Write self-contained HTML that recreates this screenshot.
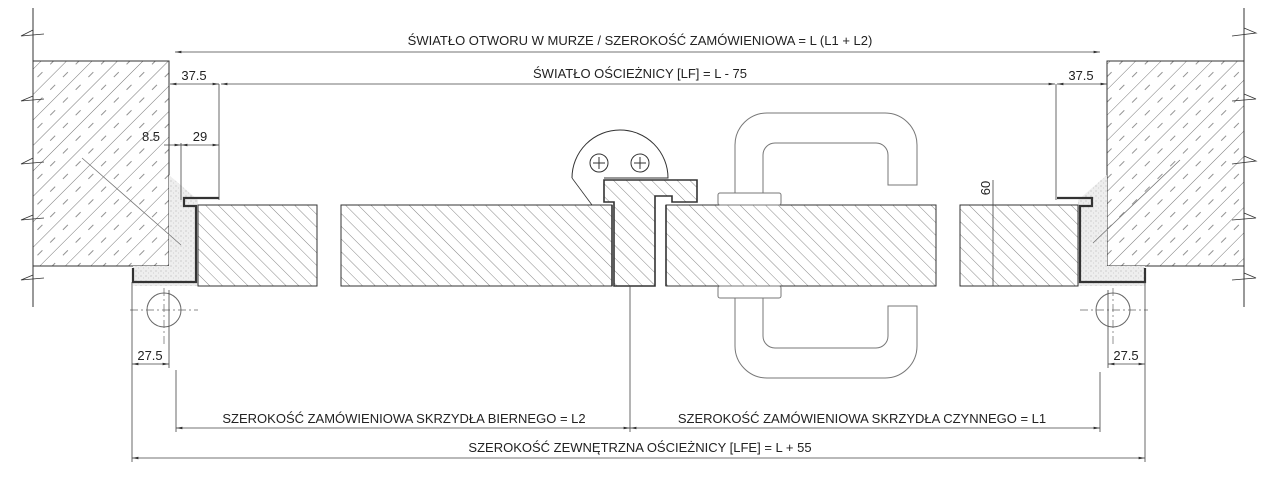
<!DOCTYPE html>
<html><head><meta charset="utf-8"><style>
html,body{margin:0;padding:0;background:#fff;width:1280px;height:485px;overflow:hidden}
text{font-family:"Liberation Sans",sans-serif;font-size:13px;fill:#222}
</style></head><body>
<svg width="1280" height="485" viewBox="0 0 1280 485" xmlns="http://www.w3.org/2000/svg">
<defs>
<pattern id="wall" width="18" height="18" patternUnits="userSpaceOnUse" patternTransform="rotate(45)">
<line x1="0" y1="0" x2="0" y2="18" stroke="#555" stroke-width="0.8"/>
<line x1="9" y1="3" x2="9" y2="10" stroke="#777" stroke-width="0.8"/>
</pattern>
<pattern id="door" width="9" height="9" patternUnits="userSpaceOnUse" patternTransform="rotate(-45)">
<line x1="0" y1="0" x2="0" y2="9" stroke="#555" stroke-width="0.7"/>
</pattern>
<pattern id="speck" width="5" height="5" patternUnits="userSpaceOnUse">
<rect width="5" height="5" fill="#eee"/><circle cx="1" cy="1" r="0.5" fill="#999"/><circle cx="3.5" cy="3" r="0.4" fill="#aaa"/>
</pattern>
<marker id="a" markerWidth="8" markerHeight="6" refX="8" refY="3" orient="auto-start-reverse"><path d="M0,1.5 L8,3 L0,4.5z" fill="#333"/></marker>
</defs>
<g stroke="#333" stroke-width="1" fill="none">
<rect x="33" y="61" width="136" height="205" fill="url(#wall)"/>
<rect x="1107" y="61" width="137" height="205" fill="url(#wall)"/>
<path d="M33 8V307M1244 8V307"/>
<path d="M33 30 L21 36 L44 34 M33 96 L21 101 L44 99 M33 158 L21 164 L44 162 M33 215 L21 220 L44 218 M33 275 L21 280 L44 278" stroke-width="0.8"/>
<path d="M1244 28 L1256 33 L1232 36 M1244 94 L1256 99 L1232 101 M1244 156 L1256 161 L1232 164 M1244 213 L1256 218 L1232 220 M1244 273 L1256 278 L1232 280" stroke-width="0.8"/>
<path d="M169 175 L198 200 L198 286 L133 286 L133 266 L169 266Z" fill="url(#speck)" stroke="none"/>
<path d="M1107 175 L1078 200 L1078 286 L1145 286 L1145 266 L1107 266Z" fill="url(#speck)" stroke="none"/>
<path d="M133 268 V282 H196 V206 H184 V198 H219" stroke-width="2.2"/>
<path d="M1145 268 V282 H1080 V206 H1092 V198 H1057" stroke-width="2.2"/>
<path d="M82 158 L181 245 M1180 160 L1093 243" stroke="#777" stroke-width="0.8"/>
<rect x="198" y="205" width="119" height="81" fill="url(#door)"/>
<rect x="341" y="205" width="271" height="81" fill="url(#door)"/>
<rect x="666" y="205" width="270" height="81" fill="url(#door)"/>
<rect x="960" y="205" width="118" height="81" fill="url(#door)"/>
<path d="M612 205V286 M666 205V286" stroke-width="1.6"/>
<path d="M604 180 H697 V202 H672 V196 H655 V286 H614 V202 H604Z" fill="url(#door)" stroke-width="1.6"/>
<path d="M572 178 A48 48 0 0 1 668 178 H604" fill="#fff"/>
<path d="M572 178 L592 205" stroke-width="0.8"/>
<circle cx="599" cy="163" r="9"/><path d="M593 163h12M599 157v12"/>
<circle cx="640" cy="163" r="9"/><path d="M634 163h12M640 157v12"/>
<path d="M735 205 V145 A32 32 0 0 1 767 113 H885 A32 32 0 0 1 917 145 V185 H888 V155 A12 12 0 0 0 876 143 H775 A12 12 0 0 0 763 155 V193" stroke="#777"/>
<path d="M735 286 V346 A32 32 0 0 0 767 378 H885 A32 32 0 0 0 917 346 V306 H888 V336 A12 12 0 0 1 876 348 H775 A12 12 0 0 1 763 336 V298" stroke="#777"/>
<rect x="718" y="193" width="63" height="12" rx="2" fill="#fff" stroke="#777"/>
<rect x="718" y="286" width="63" height="12" rx="2" fill="#fff" stroke="#777"/>
<circle cx="164" cy="310" r="17" stroke="#666"/>
<circle cx="1113" cy="310" r="17" stroke="#666"/>
<path d="M130 310H198 M164 288V345 M1080 310H1148 M1113 288V345" stroke="#666" stroke-dasharray="8 3 2 3" stroke-width="0.7"/>
<g stroke="#444" stroke-width="0.8">
<line x1="175" y1="52" x2="1100" y2="52" marker-start="url(#a)" marker-end="url(#a)"/>
<line x1="170" y1="84" x2="219" y2="84" marker-start="url(#a)" marker-end="url(#a)"/>
<line x1="221" y1="84" x2="1055" y2="84" marker-start="url(#a)" marker-end="url(#a)"/>
<line x1="1057" y1="84" x2="1107" y2="84" marker-start="url(#a)" marker-end="url(#a)"/>
<line x1="164" y1="145" x2="181" y2="145" marker-end="url(#a)"/>
<line x1="181" y1="145" x2="219" y2="145" marker-start="url(#a)" marker-end="url(#a)"/>
<path d="M219 84V200 M181 143V200 M1056 84V200 M993 180V286 M176 370V432 M1100 372V432 M630 286V432 M132 282V462 M1145 282V462 M169 290V368 M1108 290V368"/>
<line x1="132" y1="364" x2="169" y2="364" marker-start="url(#a)" marker-end="url(#a)"/>
<line x1="1108" y1="364" x2="1145" y2="364" marker-start="url(#a)" marker-end="url(#a)"/>
<line x1="176" y1="428" x2="630" y2="428" marker-start="url(#a)" marker-end="url(#a)"/>
<line x1="630" y1="428" x2="1100" y2="428" marker-start="url(#a)" marker-end="url(#a)"/>
<line x1="132" y1="458" x2="1145" y2="458" marker-start="url(#a)" marker-end="url(#a)"/>
</g>
</g>
<text x="640" y="45" text-anchor="middle">ŚWIATŁO OTWORU W MURZE / SZEROKOŚĆ ZAMÓWIENIOWA = L (L1 + L2)</text>
<text x="640" y="78" text-anchor="middle">ŚWIATŁO OŚCIEŻNICY [LF] = L - 75</text>
<text x="194" y="80" text-anchor="middle">37.5</text>
<text x="1081" y="80" text-anchor="middle">37.5</text>
<text x="151" y="141" text-anchor="middle">8.5</text>
<text x="200" y="141" text-anchor="middle">29</text>
<text x="150" y="360" text-anchor="middle">27.5</text>
<text x="1126" y="360" text-anchor="middle">27.5</text>
<text x="0" y="0" text-anchor="middle" transform="translate(990 188) rotate(-90)">60</text>
<text x="404" y="423" text-anchor="middle">SZEROKOŚĆ ZAMÓWIENIOWA SKRZYDŁA BIERNEGO = L2</text>
<text x="862" y="423" text-anchor="middle">SZEROKOŚĆ ZAMÓWIENIOWA SKRZYDŁA CZYNNEGO = L1</text>
<text x="640" y="452" text-anchor="middle">SZEROKOŚĆ ZEWNĘTRZNA OŚCIEŻNICY [LFE] = L + 55</text>
</svg>
</body></html>
